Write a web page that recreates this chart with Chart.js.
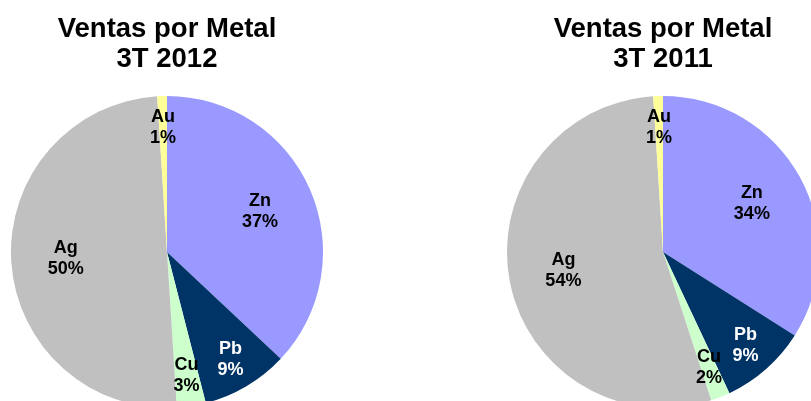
<!DOCTYPE html>
<html>
<head>
<meta charset="utf-8">
<script src="https://cdn.jsdelivr.net/npm/chart.js@4/dist/chart.umd.min.js"></script>
<style>
    html, body { margin: 0; padding: 0; background: #fff; }
    #wrap { position: relative; width: 811px; height: 401px; overflow: hidden; background: #fff; }
    .pie-box { position: absolute; top: 0; }
    #box2012 { left: 0; }
    #box2011 { left: 496px; }
</style>
</head>
<body>
<div id="wrap">
    <div class="pie-box" id="box2012"><canvas id="pie2012" width="334" height="410"></canvas></div>
    <div class="pie-box" id="box2011"><canvas id="pie2011" width="334" height="410"></canvas></div>
</div>
<script>
        // Data (clockwise from 12 o'clock)
        const metals = ['Zn', 'Pb', 'Cu', 'Ag', 'Au'];
        const sales2012 = [37, 9, 3, 50, 1];
        const sales2011 = [34, 9, 2, 54, 1];
        const chartTitle = 'Ventas por Metal';
        const period2012 = '3T 2012';
        const period2011 = '3T 2011';

        // Styles
        const sliceColors = ['#9999FF', '#003366', '#CCFFCC', '#C0C0C0', '#FFFF99'];
        const labelColors = ['#000000', '#FFFFFF', '#000000', '#000000', '#000000'];

        // Slice labels: name + percent, drawn from each arc's geometry
        const sliceLabels = {
            id: 'sliceLabels',
            afterDatasetsDraw(chart) {
                const ctx = chart.ctx;
                const ds = chart.data.datasets[0];
                const total = ds.data.reduce((a, b) => a + b, 0);
                chart.getDatasetMeta(0).data.forEach((arc, i) => {
                    const p = arc.getProps(['x', 'y', 'startAngle', 'endAngle', 'outerRadius'], true);
                    const mid = (p.startAngle + p.endAngle) / 2;
                    const pct = ds.data[i] / total * 100;
                    const f = pct >= 20 ? 0.65 : 0.8;
                    const lx = p.x + Math.cos(mid) * p.outerRadius * f;
                    const ly = p.y + Math.sin(mid) * p.outerRadius * f;
                    ctx.save();
                    ctx.font = 'bold 18px "Liberation Sans", Arial, sans-serif';
                    ctx.fillStyle = labelColors[i];
                    ctx.textAlign = 'center';
                    ctx.textBaseline = 'middle';
                    ctx.fillText(chart.data.labels[i], lx, ly - 10.5);
                    ctx.fillText(Math.round(pct) + '%', lx, ly + 10.5);
                    ctx.restore();
                });
            }
        };

        function makePie(canvasId, values, period) {
            const ctx = document.getElementById(canvasId).getContext('2d');
            return new Chart(ctx, {
                type: 'pie',
                data: {
                    labels: metals,
                    datasets: [{
                        data: values,
                        backgroundColor: sliceColors,
                        borderWidth: 0
                    }]
                },
                options: {
                    responsive: false,
                    animation: false,
                    layout: {
                        padding: { top: 0, bottom: 2, left: 0, right: 0 }
                    },
                    plugins: {
                        legend: { display: false },
                        tooltip: { enabled: false },
                        title: {
                            display: true,
                            text: [chartTitle, period],
                            color: '#000000',
                            font: {
                                family: '"Liberation Sans", Arial, sans-serif',
                                size: 27.5,
                                weight: 'bold',
                                lineHeight: 1.09
                            },
                            padding: { top: 14, bottom: 22 }
                        }
                    }
                },
                plugins: [sliceLabels]
            });
        }

        makePie('pie2012', sales2012, period2012);
        makePie('pie2011', sales2011, period2011);
</script>
</body>
</html>
